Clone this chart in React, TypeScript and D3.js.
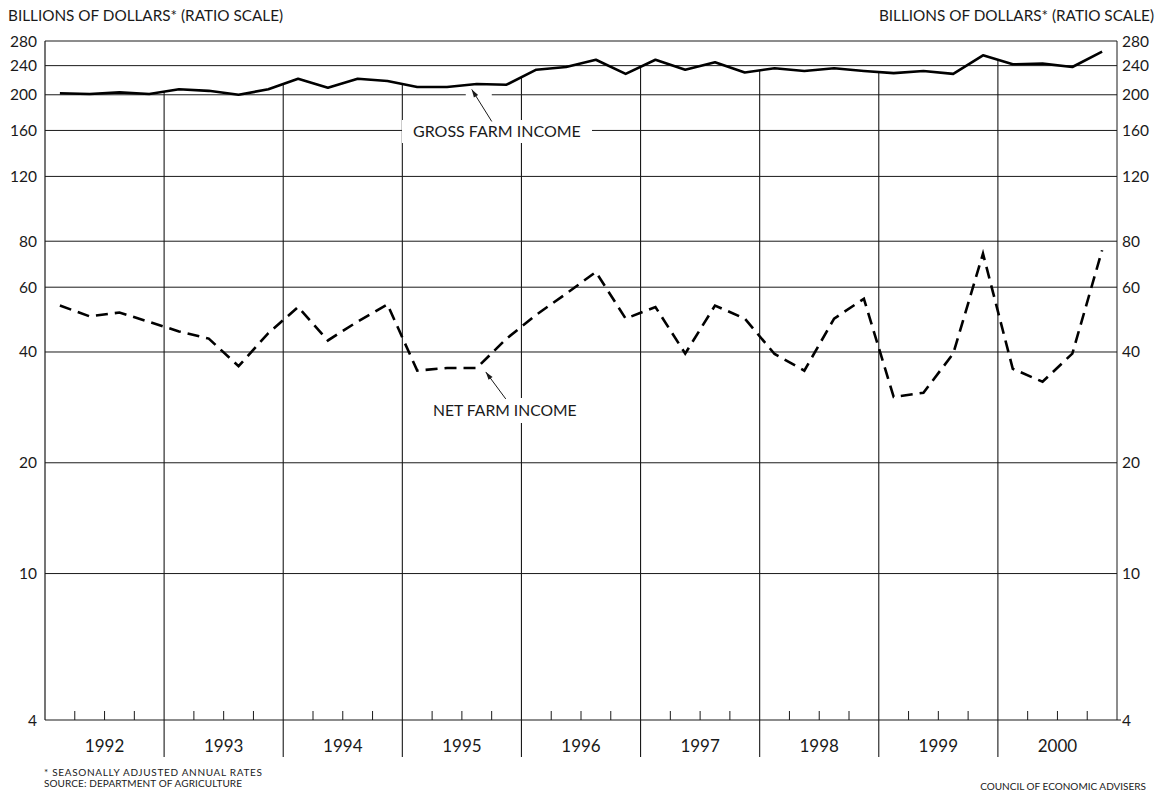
import React from "react";
import * as d3 from "d3";

const years = [1992, 1993, 1994, 1995, 1996, 1997, 1998, 1999, 2000];
const quarterIndex = [0, 1, 2, 3];

// Gross farm income, quarterly, billions of dollars (SAAR)
const grossFarmIncome = [
  202, 201, 203, 201,
  207, 205, 200, 207,
  221, 209, 221, 218,
  210, 210, 214, 213,
  234, 238, 249, 228,
  249, 234, 245, 230,
  236, 232, 236, 232,
  229, 232, 228, 256,
  242, 243, 238, 262,
];

// Net farm income, quarterly, billions of dollars (SAAR)
const netFarmIncome = [
  53.5, 50, 51.2, 48.3,
  45.5, 43.5, 36.6, 45,
  53, 43, 48.4, 53.9,
  35.6, 36.2, 36.2, 43.5,
  50.5, 57.6, 66, 49.3,
  53, 39.6, 53.5, 49.3,
  39.5, 35.6, 49.3, 55.8,
  30.2, 31, 39.6, 74,
  36, 33.2, 39.6, 75.6,
];

const gridValues = [10, 20, 40, 60, 80, 120, 160, 200, 240];
const tickLabels = [4, 10, 20, 40, 60, 80, 120, 160, 200, 240, 280];

const W = 1161;
const H = 796;
const FONT = "Lato, 'Open Sans', sans-serif";

export default function App() {
  const x = d3.scaleLinear().domain([1992, 2001]).range([45, 1117]);
  const y = d3.scaleLog().domain([4, 280]).range([720, 41]);

  const dates: number[] = [];
  years.forEach((yr) => quarterIndex.forEach((q) => dates.push(yr + (q + 0.5) / 4)));

  const line = d3
    .line<number>()
    .x((_, i) => x(dates[i]))
    .y((d) => y(d));

  const x0 = x(1992);
  const x1 = x(2001);
  const yTop = y(280);
  const yBot = y(4);

  const dividerTop = (yr: number) => {
    const k = (yr - 1992) * 4;
    return (y(grossFarmIncome[k - 1]) + y(grossFarmIncome[k])) / 2;
  };

  const stroke = "#1a1a1a";

  const gTipX = x(dates[14]) - 5;
  const gTipY = y((grossFarmIncome[13] + grossFarmIncome[14]) / 2) + 4;
  const nTipX = x(dates[14]) + 9;
  const nTipY = y(netFarmIncome[14]) + 4;

  const arrowHead = (tx: number, ty: number, fx: number, fy: number) => {
    const ang = Math.atan2(ty - fy, tx - fx);
    const len = 8;
    const wid = 2.5;
    const bx = tx - len * Math.cos(ang);
    const by = ty - len * Math.sin(ang);
    const px = -Math.sin(ang) * wid;
    const py = Math.cos(ang) * wid;
    return `M${tx},${ty}L${bx + px},${by + py}L${bx - px},${by - py}Z`;
  };

  return (
    <div style={{ position: "fixed", left: 0, top: 0, width: W, height: H, background: "#fff" }}>
      <svg width={W} height={H} style={{ display: "block", fontFamily: FONT }}>
        <rect x={0} y={0} width={W} height={H} fill="#fff" />

        {/* headers */}
        <text x={8} y={21} fontSize={15.3} fill={stroke}>
          BILLIONS OF DOLLARS* (RATIO SCALE)
        </text>
        <text x={1154} y={21} fontSize={15.3} fill={stroke} textAnchor="end">
          BILLIONS OF DOLLARS* (RATIO SCALE)
        </text>

        {/* horizontal grid */}
        {gridValues.map((v) => (
          <line key={"g" + v} x1={x0} x2={x1} y1={y(v)} y2={y(v)} stroke={stroke} strokeWidth={1} />
        ))}

        {/* frame */}
        <line x1={x0} x2={x1} y1={yTop} y2={yTop} stroke={stroke} strokeWidth={1} />
        <line x1={x0} x2={x1 + 4} y1={yBot} y2={yBot} stroke={stroke} strokeWidth={1.2} />
        <line x1={x0} x2={x0} y1={yTop} y2={yBot} stroke={stroke} strokeWidth={1.2} />
        <line x1={x1} x2={x1} y1={yTop} y2={yBot} stroke={stroke} strokeWidth={1} />

        {/* year dividers */}
        {years.slice(1).map((yr) => (
          <line key={"d" + yr} x1={x(yr)} x2={x(yr)} y1={dividerTop(yr)} y2={757} stroke={stroke} strokeWidth={1.1} />
        ))}

        {/* quarter ticks */}
        {years.map((yr) =>
          [1, 2, 3].map((q) => (
            <line key={"t" + yr + q} x1={x(yr + q / 4)} x2={x(yr + q / 4)} y1={yBot} y2={yBot - 9} stroke={stroke} strokeWidth={1} />
          ))
        )}

        {/* year labels */}
        {years.map((yr) => (
          <text key={"yl" + yr} x={x(yr + 0.5)} y={752} fontSize={17} textAnchor="middle" fill={stroke}>
            {yr}
          </text>
        ))}

        {/* y tick labels */}
        {tickLabels.map((v) => (
          <g key={"yl" + v}>
            <text x={37} y={y(v) + 5.5} fontSize={15.5} textAnchor="end" fill={stroke}>
              {v}
            </text>
            <text x={1122} y={y(v) + 5.5} fontSize={15.5} textAnchor="start" fill={stroke}>
              {v}
            </text>
          </g>
        ))}

        {/* label backgrounds */}
        <rect x={402} y={120} width={190} height={23} fill="#fff" />
        <rect x={428} y={398} width={154} height={25} fill="#fff" />
        <rect x={gTipX - 6} y={y(200) - 2} width={26} height={4} fill="#fff" />

        {/* series */}
        <path d={line(grossFarmIncome) || ""} fill="none" stroke="#000" strokeWidth={2.6} strokeLinejoin="round" />
        <path d={line(netFarmIncome) || ""} fill="none" stroke="#000" strokeWidth={2.6} strokeDasharray="12,7" />

        {/* annotations */}
        <text x={413} y={137} fontSize={16} fill={stroke}>
          GROSS FARM INCOME
        </text>
        <line x1={gTipX} y1={gTipY} x2={gTipX + 20} y2={gTipY + 32} stroke={stroke} strokeWidth={1} />
        <path d={arrowHead(gTipX, gTipY, gTipX + 20, gTipY + 32)} fill={stroke} />

        <text x={433} y={416} fontSize={15.7} fill={stroke}>
          NET FARM INCOME
        </text>
        <line x1={nTipX} y1={nTipY} x2={nTipX + 20} y2={nTipY + 27} stroke={stroke} strokeWidth={1} />
        <path d={arrowHead(nTipX, nTipY, nTipX + 20, nTipY + 27)} fill={stroke} />

        {/* footnotes */}
        <text x={44} y={776} fontSize={10} fill={stroke} textLength={218} lengthAdjust="spacing">
          * SEASONALLY ADJUSTED ANNUAL RATES
        </text>
        <text x={44} y={787} fontSize={10} fill={stroke} textLength={198} lengthAdjust="spacing">
          SOURCE: DEPARTMENT OF AGRICULTURE
        </text>
        <text x={1146} y={790} fontSize={10} fill={stroke} textAnchor="end">
          COUNCIL OF ECONOMIC ADVISERS
        </text>
      </svg>
    </div>
  );
}
